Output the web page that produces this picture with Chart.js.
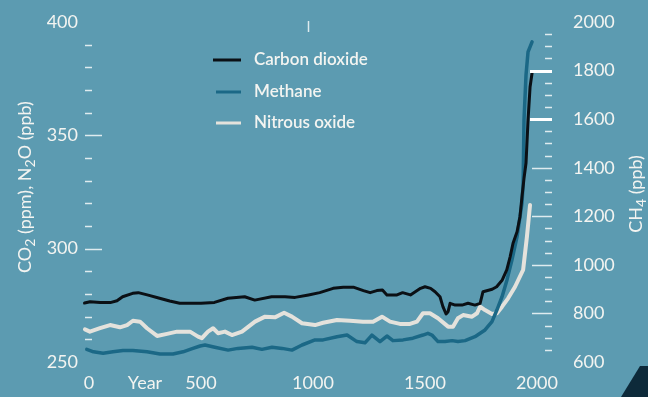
<!DOCTYPE html>
<html>
<head>
<meta charset="utf-8">
<script src="https://cdn.jsdelivr.net/npm/chart.js@4/dist/chart.umd.min.js"></script>
<style>
  html, body { margin: 0; padding: 0; background: #5c9bb1; }
  #wrap { width: 648px; height: 397px; }
</style>
</head>
<body>
<div id="wrap"><canvas id="mycanvas" width="648" height="397"></canvas></div>
<script>
// greenhouse gas concentrations over the last 2000 years
var co2Years = [-20, 5, 50, 95, 125, 150, 195, 220, 260, 315, 360, 405, 500, 560, 620, 695, 740, 815, 875, 920, 980, 1030, 1090, 1135, 1180, 1225, 1255, 1285, 1310, 1330, 1375, 1400, 1435, 1480, 1500, 1525, 1545, 1567, 1580, 1594, 1603, 1612, 1635, 1665, 1692, 1723, 1746, 1759, 1800, 1820, 1845, 1865, 1880, 1893, 1911, 1924, 1933, 1942, 1951, 1960, 1969, 1978];
var co2Values = [276.0, 276.6, 276.3, 276.2, 277.0, 278.8, 280.3, 280.6, 279.6, 278.1, 276.9, 275.9, 275.9, 276.3, 278.1, 278.8, 277.3, 278.8, 278.8, 278.5, 279.6, 280.6, 282.5, 283.0, 283.0, 281.5, 280.6, 281.5, 281.8, 279.6, 279.6, 280.6, 279.6, 282.5, 283.2, 282.5, 281.0, 278.8, 274.4, 271.2, 272.2, 275.9, 275.1, 275.1, 275.9, 275.1, 275.9, 281.0, 282.1, 283.2, 286.2, 290.6, 296.4, 302.4, 307.5, 314.1, 322.9, 331.0, 337.8, 356.7, 371.3, 377.5];

var ch4Years = [-10, 20, 63, 107, 152, 196, 259, 317, 375, 420, 464, 496, 518, 562, 621, 665, 728, 772, 817, 862, 906, 951, 1009, 1045, 1107, 1152, 1196, 1232, 1263, 1299, 1330, 1357, 1402, 1446, 1491, 1513, 1531, 1558, 1589, 1621, 1647, 1679, 1723, 1768, 1799, 1821, 1844, 1866, 1888, 1911, 1933, 1938, 1942, 1951, 1960, 1978];
var ch4Values = [652, 642, 636, 642, 647, 647, 642, 633, 633, 642, 656, 666, 670, 661, 649, 656, 661, 652, 661, 656, 649, 670, 691, 691, 704, 711, 684, 679, 711, 684, 707, 688, 691, 698, 711, 718, 711, 684, 684, 688, 684, 688, 704, 732, 766, 814, 869, 938, 1020, 1116, 1254, 1330, 1597, 1782, 1877, 1918];

var n2oYears = [-18, 4, 49, 94, 138, 170, 196, 228, 259, 304, 348, 393, 451, 487, 504, 531, 554, 576, 607, 638, 683, 741, 786, 830, 871, 906, 951, 1009, 1045, 1107, 1165, 1223, 1268, 1308, 1344, 1388, 1433, 1464, 1491, 1522, 1558, 1603, 1625, 1647, 1670, 1710, 1732, 1746, 1768, 1799, 1821, 1844, 1871, 1902, 1938, 1955, 1969];
var n2oValues = [264.4, 263.4, 264.9, 266.3, 265.3, 266.3, 268.2, 267.8, 264.9, 261.5, 262.4, 263.4, 263.4, 261.2, 260.5, 263.4, 264.9, 262.7, 263.4, 261.9, 263.4, 267.8, 270.0, 269.7, 271.7, 270.0, 267.1, 266.3, 267.3, 268.5, 268.2, 267.8, 267.8, 270.0, 267.8, 266.8, 266.8, 267.8, 271.5, 271.5, 269.3, 265.6, 265.6, 269.3, 270.7, 270.0, 271.5, 274.4, 272.9, 271.2, 271.5, 274.4, 278.1, 283.2, 290.6, 305.3, 319.3];

var xTicks = [0, 250, 500, 1000, 1500, 2000];
var seriesNames = ["Carbon dioxide", "Methane", "Nitrous oxide"];

var FONT = "Lato, 'Open Sans', sans-serif";
var WHITE = "#f3f4f1";

function pts(xs, ys) {
  var out = [];
  for (var i = 0; i < xs.length; i++) out.push({x: xs[i], y: ys[i]});
  return out;
}

// text with subscript parts, e.g. [["CO",0],["2",1]]
function drawParts(ctx, parts, size) {
  var w = 0;
  parts.forEach(function(p){
    ctx.font = (p[1] ? Math.round(size * 0.75) : size) + "px " + FONT;
    w += ctx.measureText(p[0]).width;
  });
  var x = -w / 2;
  parts.forEach(function(p){
    ctx.font = (p[1] ? Math.round(size * 0.75) : size) + "px " + FONT;
    ctx.fillText(p[0], x, p[1] ? size * 0.3 : 0);
    x += ctx.measureText(p[0]).width;
  });
}

function noPad(s) {
  s.paddingTop = 0; s.paddingBottom = 0; s.paddingLeft = 0; s.paddingRight = 0;
}

var decor = {
  id: "decor",
  beforeDraw: function(chart) {
    var ctx = chart.ctx;
    ctx.save();
    ctx.fillStyle = "#5c9bb1";
    ctx.fillRect(0, 0, chart.width, chart.height);
    // dark corner of the photo
    ctx.fillStyle = "#0d2a3a";
    ctx.beginPath();
    ctx.moveTo(621, 397);
    ctx.lineTo(640, 366);
    ctx.lineTo(648, 366);
    ctx.lineTo(648, 397);
    ctx.closePath();
    ctx.fill();
    ctx.restore();
  },
  afterDraw: function(chart) {
    var ctx = chart.ctx;
    var yl = chart.scales.yLeft, yr = chart.scales.yRight, xs = chart.scales.x;
    var a = chart.chartArea;
    ctx.save();
    ctx.lineCap = "butt";
    // left axis dashes
    for (var v = 260; v < 400; v += 10) {
      var py = Math.round(yl.getPixelForValue(v)) + 0.5;
      var major = (v % 50 === 0);
      ctx.strokeStyle = "rgba(255,255,255,0.8)";
      ctx.lineWidth = 1.5;
      ctx.beginPath();
      ctx.moveTo(a.left - 4, py);
      ctx.lineTo(a.left + (major ? 13 : 3), py);
      ctx.stroke();
    }
    // right axis dashes
    for (var w = 650; w < 2000; w += 50) {
      var qy = Math.round(yr.getPixelForValue(w)) + 0.5;
      var big = (w % 200 === 0);
      ctx.beginPath();
      if (big && w >= 1600) {
        ctx.strokeStyle = "#ffffff";
        ctx.lineWidth = 3;
        ctx.moveTo(a.right - 7, qy);
      } else if (big) {
        ctx.strokeStyle = "rgba(255,255,255,0.8)";
        ctx.lineWidth = 1.5;
        ctx.moveTo(a.right - 5, qy);
      } else {
        ctx.strokeStyle = "rgba(255,255,255,0.8)";
        ctx.lineWidth = 1.5;
        ctx.moveTo(a.right + 8, qy);
      }
      ctx.lineTo(a.right + 15, qy);
      ctx.stroke();
    }
    // small mark at the top
    var mx = Math.round(xs.getPixelForValue(978)) + 0.5;
    ctx.strokeStyle = "rgba(255,255,255,0.8)";
    ctx.lineWidth = 1.5;
    ctx.beginPath();
    ctx.moveTo(mx, 21);
    ctx.lineTo(mx, 32);
    ctx.stroke();

    // axis titles
    ctx.fillStyle = WHITE;
    ctx.textBaseline = "middle";
    ctx.textAlign = "left";
    ctx.save();
    ctx.translate(25, 187);
    ctx.rotate(-Math.PI / 2);
    drawParts(ctx, [["CO",0],["2",1],[" (ppm), N",0],["2",1],["O (ppb)",0]], 18);
    ctx.restore();
    ctx.save();
    ctx.translate(636, 194);
    ctx.rotate(-Math.PI / 2);
    drawParts(ctx, [["CH",0],["4",1],[" (ppb)",0]], 18);
    ctx.restore();

    // legend
    var rows = [60, 92, 123];
    chart.data.datasets.forEach(function(ds, i){
      ctx.strokeStyle = ds.borderColor;
      ctx.lineWidth = 3;
      ctx.beginPath();
      ctx.moveTo(i === 0 ? 213 : 216, rows[i]);
      ctx.lineTo(241, rows[i]);
      ctx.stroke();
      ctx.fillStyle = WHITE;
      ctx.font = "600 17px " + FONT;
      ctx.textAlign = "left";
      ctx.fillText(ds.label, 254, rows[i]);
    });
    ctx.restore();
  }
};

var ctx = document.getElementById("mycanvas");

var chart = new Chart(ctx, {
  type: "line",
  data: {
    datasets: [
      {
        label: seriesNames[0],
        data: pts(co2Years, co2Values),
        borderColor: "#0b1015",
        borderWidth: 3,
        yAxisID: "yLeft",
        clip: false
      },
      {
        label: seriesNames[1],
        data: pts(ch4Years, ch4Values),
        borderColor: "#1b6886",
        borderWidth: 3.5,
        yAxisID: "yRight",
        clip: false
      },
      {
        label: seriesNames[2],
        data: pts(n2oYears, n2oValues),
        borderColor: "#e4e2dc",
        borderWidth: 4,
        yAxisID: "yLeft",
        clip: false
      }
    ]
  },
  options: {
    responsive: false,
    animation: false,
    parsing: false,
    elements: { point: { radius: 0 }, line: { tension: 0, borderJoinStyle: "round", borderCapStyle: "round" } },
    layout: { padding: { top: 22, left: 0, right: 0, bottom: 0 } },
    plugins: { legend: { display: false }, tooltip: { enabled: false } },
    scales: {
      x: {
        type: "linear",
        min: 0,
        max: 2000,
        border: { display: false },
        grid: { display: false, drawTicks: false },
        afterBuildTicks: function(s) { s.ticks = xTicks.map(function(v){ return {value: v}; }); },
        afterFit: function(s) { s.height = 35; noPad(s); },
        ticks: {
          color: WHITE,
          padding: 10,
          maxRotation: 0,
          autoSkip: false,
          font: { family: FONT, size: 18 },
          callback: function(v) { return v === 250 ? "Year" : String(v); }
        }
      },
      yLeft: {
        type: "linear",
        position: "left",
        min: 250,
        max: 400,
        border: { display: false },
        grid: { display: false, drawTicks: false },
        afterFit: function(s) { s.width = 89; noPad(s); },
        ticks: { stepSize: 50, color: WHITE, padding: 11, font: { family: FONT, size: 18 },
          callback: function(v) { return String(v); } }
      },
      yRight: {
        type: "linear",
        position: "right",
        min: 600,
        max: 2000,
        border: { display: false },
        grid: { display: false, drawTicks: false },
        afterFit: function(s) { s.width = 111; noPad(s); },
        ticks: { stepSize: 200, color: WHITE, padding: 36, font: { family: FONT, size: 18 },
          callback: function(v) { return String(v); } }
      }
    }
  },
  plugins: [decor]
});
</script>
</body>
</html>
